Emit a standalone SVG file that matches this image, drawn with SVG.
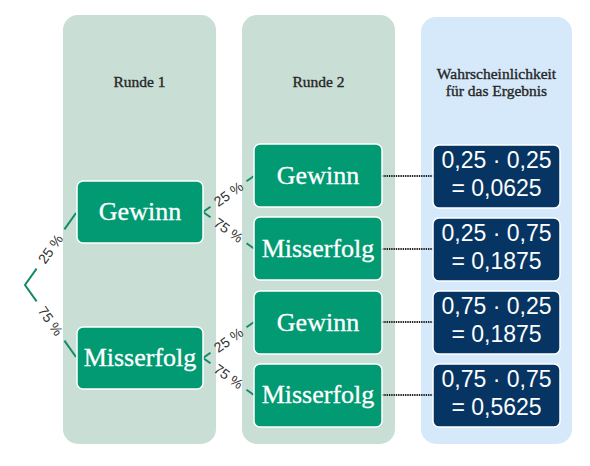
<svg xmlns="http://www.w3.org/2000/svg" width="590" height="466" viewBox="0 0 590 466">
<style>
.col{fill:#c9ded5}
.colb{fill:#d5e9fb}
.hdr{font-family:"Liberation Serif",serif;font-size:15.5px;fill:#262626;stroke:#262626;stroke-width:0.35;text-anchor:middle}
.box{fill:#019a72;stroke:#fff;stroke-width:1.5}
.res{fill:#063563;stroke:#fff;stroke-width:1.5}
.bt{font-family:"Liberation Serif",serif;font-size:26px;fill:#fff;stroke:#fff;stroke-width:0.3;text-anchor:middle}
.rt{font-family:"Liberation Sans",sans-serif;font-size:23px;fill:#fff;text-anchor:middle}
.ln{stroke:#148a68;stroke-width:2;fill:none}
.dot{stroke:#222;stroke-width:2.2;stroke-dasharray:1.4 0.9;fill:none}
.pl{font-family:"Liberation Sans",sans-serif;font-size:14px;fill:#333;text-anchor:middle}
</style>
<rect width="590" height="466" fill="#fff"/>
<g id="col-runde1"><rect class="col" x="63" y="15" width="153" height="429" rx="15"/><text class="hdr" x="139.5" y="87">Runde 1</text></g>
<g id="col-runde2"><rect class="col" x="242" y="15" width="153" height="429" rx="15"/><text class="hdr" x="318.5" y="87">Runde 2</text></g>
<g id="col-ergebnis"><rect class="colb" x="421" y="17" width="151" height="427" rx="15"/><text class="hdr" x="496.5" y="78.5">Wahrscheinlichkeit</text><text class="hdr" x="496.5" y="96">für das Ergebnis</text></g>
<g id="connectors">
<path class="ln" d="M36.6,268.6 L25,285 L36.6,301.4 M64.4,229.4 L76,213 M64.4,340.6 L76,357"/>
<path class="ln" d="M210.5,206.7 L203,212 L210.5,217.3 M246.5,181.3 L254,176 M246.5,243.2 L254,248.5"/>
<path class="ln" d="M210.5,352.7 L203,358 L210.5,363.3 M246.5,327.3 L254,322 M246.5,389.7 L254,395"/>
<path class="dot" d="M382,176 H433 M382,249 H433 M382,322 H433 M382,395 H433"/>
<text class="pl" transform="translate(50.5,249) rotate(-54.7)" dy="4.9">25 %</text>
<text class="pl" transform="translate(50.5,321) rotate(54.7)" dy="4.9">75 %</text>
<text class="pl" transform="translate(228.5,194) rotate(-35.2)" dy="4.9">25 %</text>
<text class="pl" transform="translate(228.5,230.2) rotate(35.6)" dy="4.9">75 %</text>
<text class="pl" transform="translate(228.5,340) rotate(-35.2)" dy="4.9">25 %</text>
<text class="pl" transform="translate(228.5,376.5) rotate(35.6)" dy="4.9">75 %</text>
</g>
<g id="r1-gewinn"><rect class="box" x="77" y="181" width="126" height="62" rx="6"/><text class="bt" x="140" y="220">Gewinn</text></g>
<g id="r1-misserfolg"><rect class="box" x="77" y="327" width="126" height="62" rx="6"/><text class="bt" x="140" y="366">Misserfolg</text></g>
<g id="r2-gewinn-1"><rect class="box" x="254" y="144" width="128" height="63" rx="6"/><text class="bt" x="318" y="183.5">Gewinn</text></g>
<g id="r2-misserfolg-1"><rect class="box" x="254" y="217" width="128" height="63" rx="6"/><text class="bt" x="318" y="256.5">Misserfolg</text></g>
<g id="r2-gewinn-2"><rect class="box" x="254" y="291" width="128" height="63" rx="6"/><text class="bt" x="318" y="330.5">Gewinn</text></g>
<g id="r2-misserfolg-2"><rect class="box" x="254" y="364" width="128" height="63" rx="6"/><text class="bt" x="318" y="403">Misserfolg</text></g>
<g id="res-1"><rect class="res" x="433" y="145" width="127" height="63" rx="6"/><text class="rt" x="496.5" y="168">0,25 · 0,25</text><text class="rt" x="496.5" y="196">= 0,0625</text></g>
<g id="res-2"><rect class="res" x="433" y="218" width="127" height="63" rx="6"/><text class="rt" x="496.5" y="241">0,25 · 0,75</text><text class="rt" x="496.5" y="269">= 0,1875</text></g>
<g id="res-3"><rect class="res" x="433" y="291" width="127" height="63" rx="6"/><text class="rt" x="496.5" y="314">0,75 · 0,25</text><text class="rt" x="496.5" y="342">= 0,1875</text></g>
<g id="res-4"><rect class="res" x="433" y="364" width="127" height="63" rx="6"/><text class="rt" x="496.5" y="387">0,75 · 0,75</text><text class="rt" x="496.5" y="415">= 0,5625</text></g>
</svg>
